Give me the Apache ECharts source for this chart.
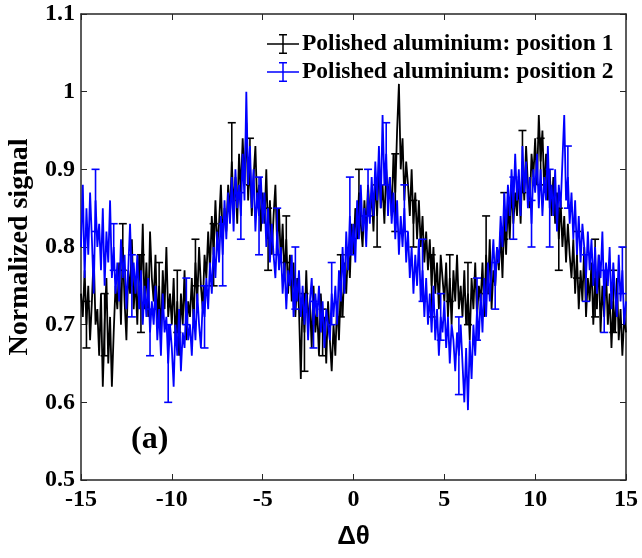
<!DOCTYPE html>
<html>
<head>
	<meta charset="UTF-8">
	<title>Normalized signal</title>
	<style>
		html, body { margin: 0; padding: 0; background: #fff; }
		#chart { width: 642px; height: 558px; }
	</style>
</head>
<body>
<div id="chart"></div>

<script type="text/javascript" src="https://cdn.jsdelivr.net/npm/echarts@6/dist/echarts.min.js"></script>
<script type="text/javascript">
// angle grid: -15 .. 15, step 0.1
var thetaStart = -15;
var thetaStep = 0.1;

var xTicks = [-15, -10, -5, 0, 5, 10, 15];
var yTicks = [0.5, 0.6, 0.7, 0.8, 0.9, 1.0, 1.1];

var seriesNames = ['Polished aluminium: position 1', 'Polished aluminium: position 2'];

// position 1 (black), one row per degree
var signal1 = [
	0.74, 0.71, 0.77, 0.70, 0.75, 0.68, 0.73, 0.79, 0.70, 0.72,
	0.66, 0.74, 0.62, 0.70, 0.76, 0.65, 0.71, 0.62, 0.69, 0.75,
	0.72, 0.78, 0.70, 0.80, 0.73, 0.68, 0.77, 0.74, 0.81, 0.72,
	0.76, 0.70, 0.79, 0.74, 0.83, 0.72, 0.78, 0.71, 0.82, 0.76,
	0.73, 0.79, 0.70, 0.75, 0.68, 0.77, 0.72, 0.80, 0.71, 0.74,
	0.70, 0.76, 0.68, 0.73, 0.66, 0.74, 0.70, 0.77, 0.68, 0.73,
	0.71, 0.76, 0.70, 0.78, 0.73, 0.80, 0.75, 0.72, 0.79, 0.76,
	0.82, 0.77, 0.84, 0.79, 0.86, 0.80, 0.83, 0.88, 0.81, 0.85,
	0.82, 0.88, 0.84, 0.91, 0.85, 0.89, 0.83, 0.92, 0.87, 0.94,
	0.88, 0.96, 0.86, 0.91, 0.84, 0.89, 0.93, 0.85, 0.88, 0.82,
	0.87, 0.83, 0.90, 0.81, 0.86, 0.79, 0.84, 0.88, 0.80, 0.85,
	0.78, 0.83, 0.76, 0.81, 0.74, 0.79, 0.73, 0.78, 0.71, 0.76,
	0.72, 0.63, 0.74, 0.69, 0.77, 0.70, 0.73, 0.67, 0.75, 0.69,
	0.72, 0.66, 0.74, 0.69, 0.71, 0.65, 0.73, 0.68, 0.64, 0.70,
	0.66, 0.73, 0.68, 0.75, 0.71, 0.78, 0.74, 0.80, 0.76, 0.83,
	0.79, 0.85, 0.81, 0.87, 0.83, 0.80, 0.86, 0.82, 0.88, 0.84,
	0.87, 0.82, 0.89, 0.84, 0.91, 0.85, 0.88, 0.83, 0.90, 0.86,
	0.89, 0.84, 0.92, 0.87, 0.95, 1.01, 0.90, 0.94, 0.86, 0.91,
	0.88, 0.84, 0.90, 0.83, 0.87, 0.81, 0.86, 0.80, 0.84, 0.78,
	0.82, 0.77, 0.81, 0.75, 0.80, 0.74, 0.78, 0.72, 0.79, 0.76,
	0.73, 0.78, 0.71, 0.76, 0.70, 0.77, 0.73, 0.79, 0.72, 0.75,
	0.71, 0.77, 0.70, 0.74, 0.68, 0.76, 0.72, 0.78, 0.71, 0.75,
	0.73, 0.78, 0.71, 0.79, 0.74, 0.81, 0.72, 0.77, 0.75, 0.80,
	0.77, 0.82, 0.76, 0.84, 0.79, 0.86, 0.81, 0.88, 0.83, 0.87,
	0.84, 0.89, 0.83, 0.91, 0.86, 0.93, 0.88, 0.85, 0.92, 0.89,
	0.94, 0.88, 0.97, 0.91, 0.95, 0.87, 0.92, 0.86, 0.90, 0.84,
	0.89, 0.83, 0.87, 0.81, 0.86, 0.80, 0.84, 0.78, 0.83, 0.79,
	0.76, 0.81, 0.74, 0.79, 0.72, 0.77, 0.73, 0.80, 0.71, 0.76,
	0.73, 0.78, 0.70, 0.76, 0.72, 0.79, 0.69, 0.75, 0.71, 0.77,
	0.70, 0.74, 0.67, 0.73, 0.69, 0.76, 0.68, 0.72, 0.66, 0.71,
	0.69
];

// position 2 (blue)
var signal2 = [
	0.80, 0.88, 0.76, 0.85, 0.79, 0.87, 0.81, 0.74, 0.86, 0.80,
	0.83, 0.77, 0.85, 0.75, 0.82, 0.78, 0.86, 0.76, 0.80, 0.74,
	0.78, 0.73, 0.81, 0.76, 0.79, 0.72, 0.77, 0.83, 0.75, 0.78,
	0.74, 0.79, 0.72, 0.77, 0.70, 0.75, 0.71, 0.76, 0.69, 0.73,
	0.70, 0.75, 0.68, 0.72, 0.66, 0.74, 0.69, 0.71, 0.65, 0.70,
	0.67, 0.62, 0.70, 0.66, 0.72, 0.64, 0.69, 0.67, 0.73, 0.68,
	0.70, 0.66, 0.72, 0.68, 0.74, 0.70, 0.67, 0.73, 0.71, 0.76,
	0.72, 0.78, 0.74, 0.80, 0.76, 0.82, 0.78, 0.84, 0.79, 0.86,
	0.81, 0.87, 0.83, 0.89, 0.82, 0.90, 0.85, 0.88, 0.84, 0.92,
	0.86, 1.00, 0.88, 0.93, 0.85, 0.90, 0.82, 0.87, 0.84, 0.89,
	0.83, 0.87, 0.80, 0.85, 0.78, 0.83, 0.79, 0.76, 0.82, 0.77,
	0.80, 0.74, 0.78, 0.72, 0.77, 0.75, 0.79, 0.71, 0.76, 0.73,
	0.77, 0.71, 0.75, 0.70, 0.74, 0.68, 0.73, 0.76, 0.70, 0.74,
	0.71, 0.75, 0.69, 0.73, 0.67, 0.72, 0.70, 0.68, 0.74, 0.71,
	0.75, 0.70, 0.77, 0.73, 0.80, 0.74, 0.82, 0.77, 0.84, 0.79,
	0.83, 0.78, 0.86, 0.81, 0.88, 0.82, 0.85, 0.80, 0.87, 0.83,
	0.89, 0.84, 0.91, 0.86, 0.93, 0.85, 0.97, 0.88, 0.92, 0.84,
	0.89, 0.83, 0.87, 0.81, 0.86, 0.79, 0.84, 0.80, 0.85, 0.78,
	0.82, 0.76, 0.80, 0.74, 0.79, 0.75, 0.81, 0.73, 0.77, 0.71,
	0.76, 0.70, 0.74, 0.69, 0.75, 0.68, 0.72, 0.66, 0.71, 0.69,
	0.73, 0.67, 0.71, 0.65, 0.70, 0.68, 0.64, 0.69, 0.66, 0.70,
	0.65, 0.60, 0.67, 0.59, 0.68, 0.63, 0.70, 0.66, 0.72, 0.68,
	0.74, 0.69, 0.76, 0.71, 0.78, 0.73, 0.77, 0.81, 0.75, 0.80,
	0.78, 0.84, 0.80, 0.87, 0.82, 0.88, 0.84, 0.90, 0.85, 0.92,
	0.86, 0.90, 0.84, 0.93, 0.87, 0.91, 0.85, 0.89, 0.83, 0.90,
	0.87, 0.92, 0.85, 0.90, 0.84, 0.89, 0.86, 0.93, 0.85, 0.88,
	0.84, 0.90, 0.82, 0.88, 0.85, 0.91, 0.97, 0.86, 0.89, 0.83,
	0.87, 0.81, 0.86, 0.79, 0.84, 0.78, 0.83, 0.80, 0.76, 0.82,
	0.77, 0.81, 0.75, 0.80, 0.74, 0.79, 0.76, 0.82, 0.73, 0.78,
	0.75, 0.80, 0.72, 0.78, 0.74, 0.71, 0.79, 0.73, 0.77, 0.70,
	0.73
];

// error bars: drawn every 10th point, half-widths per bar
var errEvery = 10;
var errOffset1 = 3;
var errOffset2 = 8;
var err1 = [0.03, 0.04, 0.03, 0.05, 0.03, 0.04, 0.03, 0.04, 0.05, 0.03,
	0.04, 0.03, 0.05, 0.03, 0.04, 0.03, 0.04, 0.05, 0.03, 0.04,
	0.03, 0.04, 0.05, 0.03, 0.04, 0.03, 0.04, 0.03, 0.05, 0.04];
var err2 = [0.04, 0.03, 0.04, 0.03, 0.05, 0.03, 0.04, 0.04, 0.03, 0.05,
	0.03, 0.04, 0.03, 0.04, 0.05, 0.03, 0.04, 0.03, 0.04, 0.03,
	0.05, 0.04, 0.03, 0.04, 0.03, 0.05, 0.04, 0.03, 0.04, 0.03];

function toPairs(vals) {
	var out = [];
	for (var i = 0; i < vals.length; i++) {
		out.push([+(thetaStart + i * thetaStep).toFixed(2), vals[i]]);
	}
	return out;
}

function toErr(vals, offset, errs) {
	var out = [];
	for (var k = 0; k < errs.length; k++) {
		var i = offset + k * errEvery;
		if (i >= vals.length) break;
		var x = +(thetaStart + i * thetaStep).toFixed(2);
		out.push([x, vals[i] - errs[k], vals[i] + errs[k]]);
	}
	return out;
}

function errRender(color) {
	return function (params, api) {
		var x = api.value(0);
		var lo = api.coord([x, api.value(1)]);
		var hi = api.coord([x, api.value(2)]);
		var w = 4;
		var st = { stroke: color, lineWidth: 1.6 };
		return {
			type: 'group',
			children: [
				{ type: 'line', shape: { x1: lo[0], y1: lo[1], x2: hi[0], y2: hi[1] }, style: st },
				{ type: 'line', shape: { x1: lo[0] - w, y1: lo[1], x2: lo[0] + w, y2: lo[1] }, style: st },
				{ type: 'line', shape: { x1: hi[0] - w, y1: hi[1], x2: hi[0] + w, y2: hi[1] }, style: st }
			]
		};
	};
}

var serif = 'Liberation Serif, Times New Roman, serif';
var errIcon = 'path://M0,9.25h32v1.5h-32z M15.25,0h1.5v20h-1.5z M12,0h8v1.5h-8z M12,18.5h8v1.5h-8z';

var chart = echarts.init(document.getElementById('chart'));
var option = {
	animation: false,
	grid: { left: 81, right: 16, top: 14, bottom: 78, containLabel: false, outerBoundsMode: 'none' },
	legend: {
		data: seriesNames,
		orient: 'vertical',
		left: 262,
		top: 27,
		icon: errIcon,
		itemWidth: 32,
		itemHeight: 20,
		itemGap: 4,
		textStyle: { fontFamily: serif, fontWeight: 'bold', fontSize: 23.5, color: '#000', padding: [0, 0, 0, -2] }
	},
	xAxis: [{
		type: 'value',
		min: -15, max: 15, interval: 5,
		name: 'Δθ',
		nameLocation: 'middle',
		nameGap: 44,
		nameTextStyle: { fontFamily: 'Liberation Sans, Arial, sans-serif', fontWeight: 'bold', fontSize: 26, color: '#000' },
		axisLine: { onZero: false, lineStyle: { color: '#262626', width: 1.5 } },
		axisTick: { inside: true, length: 6, lineStyle: { color: '#262626' } },
		axisLabel: { margin: 8, fontFamily: serif, fontWeight: 'bold', fontSize: 24, color: '#000',
			formatter: function (v) { return xTicks.indexOf(v) >= 0 ? String(v) : ''; } },
		splitLine: { show: false }
	}, {
		type: 'value',
		position: 'top',
		min: -15, max: 15, interval: 5,
		axisLine: { onZero: false, lineStyle: { color: '#262626', width: 1.5 } },
		axisTick: { inside: true, length: 6, lineStyle: { color: '#262626' } },
		axisLabel: { show: false },
		splitLine: { show: false }
	}],
	yAxis: [{
		type: 'value',
		min: 0.5, max: 1.1, interval: 0.1,
		name: 'Normalized signal',
		nameLocation: 'middle',
		nameGap: 39,
		nameTextStyle: { fontFamily: serif, fontWeight: 'bold', fontSize: 28, color: '#000' },
		axisLine: { onZero: false, lineStyle: { color: '#262626', width: 1.5 } },
		axisTick: { inside: true, length: 6, lineStyle: { color: '#262626' } },
		axisLabel: { margin: 6, fontFamily: serif, fontWeight: 'bold', fontSize: 24, color: '#000',
			formatter: function (v) { return String(+v.toFixed(1)); } },
		splitLine: { show: false }
	}, {
		type: 'value',
		position: 'right',
		min: 0.5, max: 1.1, interval: 0.1,
		axisLine: { onZero: false, lineStyle: { color: '#262626', width: 1.5 } },
		axisTick: { inside: true, length: 6, lineStyle: { color: '#262626' } },
		axisLabel: { show: false },
		splitLine: { show: false }
	}],
	graphic: [{
		type: 'text',
		left: 131,
		top: 424,
		style: { text: '(a)', font: 'bold 32px ' + serif, fill: '#000' }
	}],
	series: [{
		name: seriesNames[0],
		type: 'line',
		data: toPairs(signal1),
		showSymbol: false,
		color: '#000000',
		lineStyle: { color: '#000000', width: 1.8 },
		z: 2
	}, {
		name: seriesNames[0],
		type: 'custom',
		data: toErr(signal1, errOffset1, err1),
		renderItem: errRender('#000000'),
		encode: { x: 0, y: [1, 2] },
		z: 2
	}, {
		name: seriesNames[1],
		type: 'line',
		data: toPairs(signal2),
		showSymbol: false,
		color: '#0000ff',
		lineStyle: { color: '#0000ff', width: 1.8 },
		z: 3
	}, {
		name: seriesNames[1],
		type: 'custom',
		data: toErr(signal2, errOffset2, err2),
		renderItem: errRender('#0000ff'),
		encode: { x: 0, y: [1, 2] },
		z: 3
	}]
};
chart.setOption(option);
</script>
</body>
</html>
